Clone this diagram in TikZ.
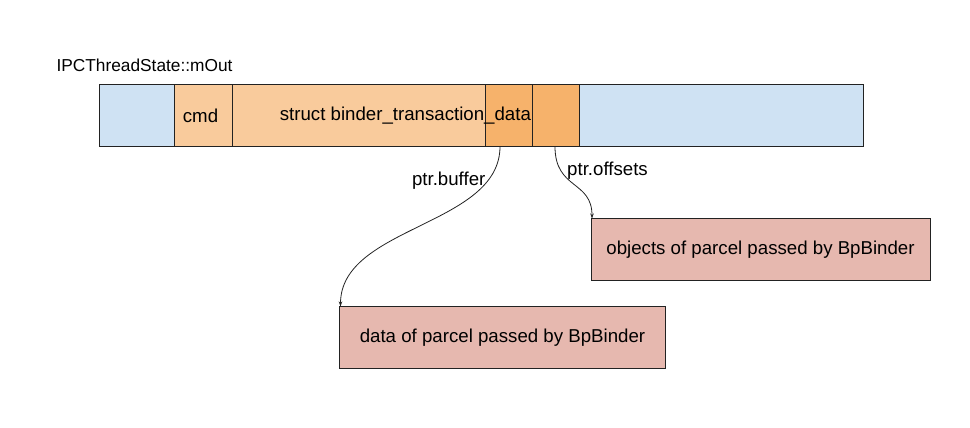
\documentclass[tikz,border=0pt]{standalone}
\usepackage{fontspec}
\setmainfont{Liberation Sans}
\usetikzlibrary{arrows.meta}
\definecolor{cblue}{HTML}{CFE2F3}
\definecolor{corange}{HTML}{F9CB9C}
\definecolor{cdorange}{HTML}{F6B26B}
\definecolor{cpink}{HTML}{E6B8AF}
\definecolor{cline}{HTML}{222222}
\tikzset{
  seg/.style={draw=cline, line width=0.9pt, rectangle, anchor=north west, inner sep=0pt, outer sep=0pt, minimum height=62pt},
  pbox/.style={draw=cline, line width=0.9pt, fill=cpink, rectangle, anchor=north west, inner sep=0pt, outer sep=0pt, minimum height=62pt},
  txt/.style={inner sep=0pt, font=\fontsize{18.67}{22}\selectfont, text=black},
  ttl/.style={inner sep=0pt, font=\fontsize{17.3}{21}\selectfont, text=black},
  conn/.style={draw=cline, line width=0.8pt, -{Stealth[length=5pt,width=3.5pt]}},
}
\begin{document}
\begin{tikzpicture}[x=1pt,y=-1pt]
\useasboundingbox (0,0) rectangle (970,428);
\node[ttl] (title) at (144.5,65) {IPCThreadState::mOut};
\node[seg, fill=cblue, minimum width=75pt] (s1) at (99,84.5) {};
\node[seg, fill=corange, minimum width=58pt] (s2) at (174,84.5) {};
\node[seg, fill=corange, minimum width=253pt] (s3) at (232,84.5) {};
\node[seg, fill=cdorange, minimum width=47pt] (s4) at (485,84.5) {};
\node[seg, fill=cdorange, minimum width=47pt] (s5) at (532,84.5) {};
\node[seg, fill=cblue, minimum width=284pt] (s6) at (579,84.5) {};
\node[txt] (tcmd) at (200.5,116) {cmd};
\node[txt] (tstruct) at (405.4,116) {struct binder\_transaction\_data};
\node[pbox, minimum width=339pt] (obj) at (591,218.5) {};
\node[txt] at (obj.center) {objects of parcel passed by BpBinder};
\node[pbox, minimum width=326pt] (dat) at (339.5,306.5) {};
\node[txt] at (dat.center) {data of parcel passed by BpBinder};
\coordinate (a1) at (500,146.5);
\coordinate (a2) at (340.5,306.5);
\coordinate (b1) at (555,146.5);
\coordinate (b2) at (592,218.5);
\draw[conn] (a1) .. controls (500,226) and (340.5,226) .. (a2);
\draw[conn] (b1) .. controls (555,190) and (592,180) .. (b2);
\node[txt] (lbuf) at (448.7,181) {ptr.buffer};
\node[txt] (loff) at (607.5,171) {ptr.offsets};
\end{tikzpicture}
\end{document}
